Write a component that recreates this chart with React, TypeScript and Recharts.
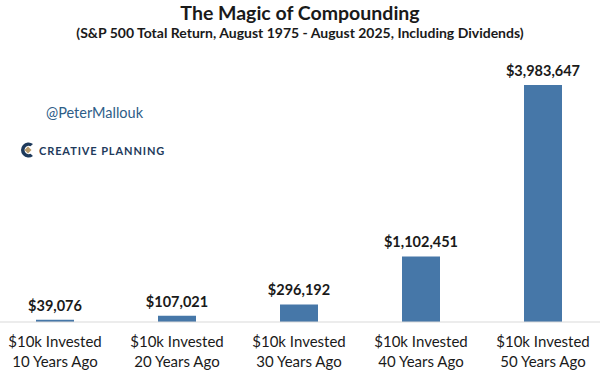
import { BarChart, Bar, XAxis, YAxis, LabelList } from 'recharts';

const categories = ['10 Years Ago', '20 Years Ago', '30 Years Ago', '40 Years Ago', '50 Years Ago'];
const values = [39076, 107021, 296192, 1102451, 3983647];

const data = categories.map((c, i) => ({ name: c, value: values[i] }));

const BAR_COLOR = '#4677a8';
const TEXT = '#1a1a1a';
const FONT = 'Lato, "Open Sans", sans-serif';

// two line category tick
const CategoryTick = (props: any) => {
  const { x, y, payload } = props;
  return (
    <g transform={`translate(${x},${y})`}>
      <text textAnchor="middle" fontFamily={FONT} fontSize={15} fill={TEXT}>
        <tspan x={0} dy={17}>$10k Invested</tspan>
        <tspan x={0} dy={20}>{payload.value}</tspan>
      </text>
    </g>
  );
};

const fmt = (v: any) => '$' + Number(v).toLocaleString('en-US');

function Logo() {
  return (
    <div style={{ position: 'absolute', left: 19, top: 141, display: 'flex', alignItems: 'center' }}>
      <svg width={16} height={18} viewBox="0 0 16 18">
        <path d="M14 3 A7.5 7.5 0 1 0 14 15 L11.5 12.8 A4.2 4.2 0 1 1 11.5 5.2 Z" fill="#1e3a5c" />
        <path d="M9 5.5 L12.5 9 L9 12.5 L5.5 9 Z" fill="#b89a6a" />
      </svg>
      <span
        style={{
          marginLeft: 4,
          fontFamily: FONT,
          fontWeight: 700,
          fontSize: 11,
          letterSpacing: 0.9,
          color: '#1e3a5c',
        }}
      >
        CREATIVE PLANNING
      </span>
    </div>
  );
}

export default function App() {
  return (
    <div style={{ position: 'absolute', left: 0, top: 0, width: 600, height: 374, background: '#fff', overflow: 'hidden' }}>
      <div
        style={{
          position: 'absolute',
          top: 1,
          width: 600,
          textAlign: 'center',
          fontFamily: FONT,
          fontWeight: 700,
          fontSize: 19.5,
          color: TEXT,
        }}
      >
        The Magic of Compounding
      </div>
      <div
        style={{
          position: 'absolute',
          top: 24,
          width: 600,
          textAlign: 'center',
          fontFamily: FONT,
          fontWeight: 700,
          fontSize: 14,
          color: TEXT,
        }}
      >
        (S&amp;P 500 Total Return, August 1975 - August 2025, Including Dividends)
      </div>
      <div
        style={{
          position: 'absolute',
          left: 46,
          top: 104,
          fontFamily: FONT,
          fontSize: 14.5,
          color: '#2e5d87',
        }}
      >
        @PeterMallouk
      </div>
      <Logo />
      <div style={{ position: 'absolute', left: -6, top: 0 }}>
        <BarChart width={610} height={374} data={data} margin={{ top: 85, right: 0, bottom: 0, left: 0 }} barSize={38}>
          <XAxis
            dataKey="name"
            axisLine={{ stroke: '#d9d9d9', strokeWidth: 1 }}
            tickLine={false}
            tick={<CategoryTick />}
            height={52}
            interval={0}
          />
          <YAxis hide domain={[0, 3983647]} />
          <Bar dataKey="value" fill={BAR_COLOR} isAnimationActive={false}>
            <LabelList
              dataKey="value"
              position="top"
              offset={9}
              formatter={fmt}
              style={{ fontFamily: FONT, fontWeight: 700, fontSize: 14.5, fill: TEXT }}
            />
          </Bar>
        </BarChart>
      </div>
    </div>
  );
}
